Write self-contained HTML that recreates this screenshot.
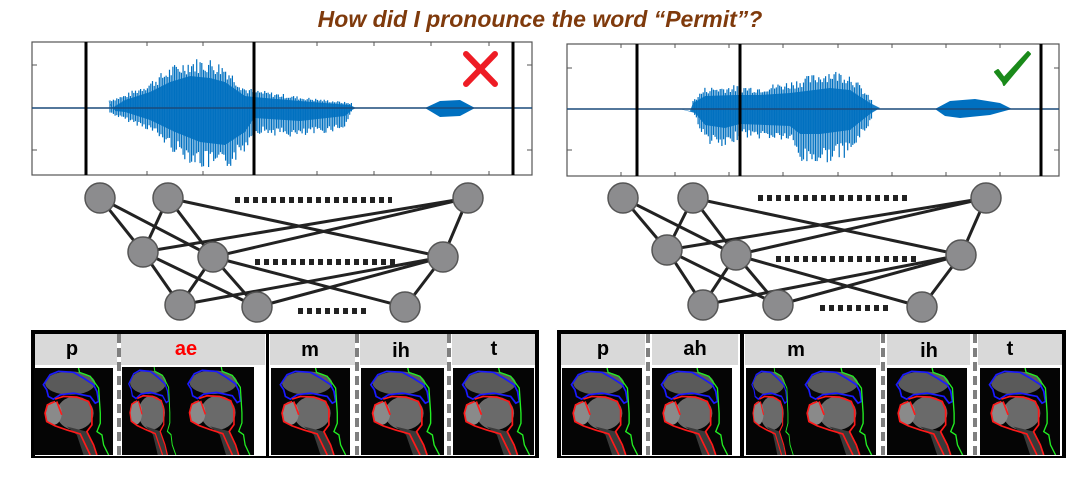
<!DOCTYPE html>
<html><head><meta charset="utf-8"><style>
html,body{margin:0;padding:0;background:#fff;}
body{width:1076px;height:499px;overflow:hidden;position:relative;font-family:"Liberation Sans",sans-serif;}
</style></head><body>
<svg id="s" width="1076" height="499" viewBox="0 0 1076 499" xmlns="http://www.w3.org/2000/svg" style="position:absolute;left:0;top:0">
<defs>
<symbol id="mri" viewBox="12 25 236 260" preserveAspectRatio="none">
<rect x="0" y="0" width="300" height="300" fill="#050505"/>
<ellipse cx="120" cy="70" rx="75" ry="35" fill="#5a5a5a"/>
<ellipse cx="135" cy="160" rx="55" ry="50" fill="#6a6a6a"/>
<ellipse cx="70" cy="160" rx="25" ry="35" fill="#8a8a8a"/>
<path d="M110,200 L170,215 L200,285 L160,285 L140,225 Z" fill="#3a3a3a"/>
<path d="M40,75 L60,45 L85,35 L130,38 L160,55 L190,75 L200,95 L205,125 L195,130 L180,110 L130,100 L90,105 L70,118 L55,110 L50,90 Z" fill="none" stroke="#1a1aff" stroke-width="5"/>
<path d="M75,118 L100,110 L140,112 L175,125 L185,150 L185,195 L170,215 L190,255 L200,285 M180,285 L150,222 L110,210 L75,198 L50,185 L45,160 L52,135 L75,125 M80,125 L95,165" fill="none" stroke="#ff1a1a" stroke-width="5"/>
<path d="M145,25 L148,38 L180,50 L205,85 L210,160 L210,190 L200,215 L215,225 L220,255 L235,285" fill="none" stroke="#22ee22" stroke-width="4"/>
</symbol>
</defs>

<text x="540" y="27" text-anchor="middle" font-family="Liberation Sans, sans-serif" font-size="23" font-weight="bold" font-style="italic" fill="#7f3a0c">How did I pronounce the word “Permit”?</text>

<!-- Left waveform box -->
<g>
<rect x="32" y="42" width="500" height="133" fill="#fff" stroke="#555" stroke-width="1.2"/>
<g stroke="#555" stroke-width="1">
<line x1="32" y1="65" x2="37" y2="65"/><line x1="32" y1="150" x2="37" y2="150"/>
<line x1="527" y1="65" x2="532" y2="65"/><line x1="527" y1="150" x2="532" y2="150"/>
<line x1="147" y1="42" x2="147" y2="46"/><line x1="203" y1="42" x2="203" y2="46"/><line x1="317" y1="42" x2="317" y2="46"/><line x1="374" y1="42" x2="374" y2="46"/><line x1="431" y1="42" x2="431" y2="46"/><line x1="489" y1="42" x2="489" y2="46"/>
<line x1="147" y1="171" x2="147" y2="175"/><line x1="203" y1="171" x2="203" y2="175"/><line x1="317" y1="171" x2="317" y2="175"/><line x1="374" y1="171" x2="374" y2="175"/><line x1="431" y1="171" x2="431" y2="175"/><line x1="489" y1="171" x2="489" y2="175"/>
</g>
<polygon fill="#0070c0" fill-opacity="0.9" points="108,100 112,108 125,100 150,92 170,82 190,76 210,78 225,82 245,96 254,97 300,101 350,105 356,108 352,110 345,116 300,121 254,118 245,132 225,145 200,142 175,132 150,120 125,112 115,111"/>
<g id="wl" stroke="#0070c0" stroke-width="1.2"></g>
<polygon fill="#0070c0" points="425,108 440,101 460,100 475,108 460,116 440,117"/>
<line x1="32" y1="108" x2="532" y2="108" stroke="#1a4a7a" stroke-width="1.5"/>
<line x1="86" y1="42" x2="86" y2="175" stroke="#000" stroke-width="3"/>
<line x1="254" y1="42" x2="254" y2="175" stroke="#000" stroke-width="3"/>
<line x1="513" y1="42" x2="513" y2="175" stroke="#000" stroke-width="3"/>
<g stroke="#ee1c25" stroke-width="6" stroke-linecap="round"><line x1="466" y1="54" x2="495" y2="84"/><line x1="495" y1="54" x2="466" y2="84"/></g>
</g>

<!-- Right waveform box -->
<g>
<rect x="567" y="44" width="492" height="132" fill="#fff" stroke="#555" stroke-width="1.2"/>
<g stroke="#555" stroke-width="1">
<line x1="567" y1="68" x2="572" y2="68"/><line x1="567" y1="150" x2="572" y2="150"/>
<line x1="1054" y1="68" x2="1059" y2="68"/><line x1="1054" y1="150" x2="1059" y2="150"/>
<line x1="621" y1="44" x2="621" y2="48"/><line x1="675" y1="44" x2="675" y2="48"/><line x1="729" y1="44" x2="729" y2="48"/><line x1="783" y1="44" x2="783" y2="48"/><line x1="838" y1="44" x2="838" y2="48"/><line x1="892" y1="44" x2="892" y2="48"/><line x1="946" y1="44" x2="946" y2="48"/><line x1="1000" y1="44" x2="1000" y2="48"/>
<line x1="621" y1="172" x2="621" y2="176"/><line x1="675" y1="172" x2="675" y2="176"/><line x1="729" y1="172" x2="729" y2="176"/><line x1="783" y1="172" x2="783" y2="176"/><line x1="838" y1="172" x2="838" y2="176"/><line x1="892" y1="172" x2="892" y2="176"/><line x1="946" y1="172" x2="946" y2="176"/><line x1="1000" y1="172" x2="1000" y2="176"/>
</g>
<polygon fill="#0070c0" fill-opacity="0.9" points="680,109 690,111 693,103 705,96 735,95 760,95 790,93 830,88 850,90 870,103 880,108 870,114 850,130 820,134 800,134 790,126 740,124 725,128 705,125 695,113"/>
<g id="wr" stroke="#0070c0" stroke-width="1.2"></g>
<polygon fill="#0070c0" points="935,109 950,101 975,99 1000,103 1012,109 990,115 960,118 945,116"/>
<line x1="567" y1="109" x2="1059" y2="109" stroke="#1a4a7a" stroke-width="1.5"/>
<line x1="637" y1="44" x2="637" y2="176" stroke="#000" stroke-width="3"/>
<line x1="740" y1="44" x2="740" y2="176" stroke="#000" stroke-width="3"/>
<line x1="1041" y1="44" x2="1041" y2="176" stroke="#000" stroke-width="3"/>
<path d="M995,72 L1003,82 L1004,85 L1030,54 L1028,52 L1004,78 L998,70 Z" fill="#1a8a1a" stroke="#1a8a1a" stroke-width="2" stroke-linejoin="round"/>
</g>

<!-- Left network -->
<g stroke="#222" stroke-width="3">
<line x1="100" y1="198" x2="143" y2="252"/><line x1="100" y1="198" x2="213" y2="257"/>
<line x1="168" y1="198" x2="143" y2="252"/><line x1="168" y1="198" x2="213" y2="257"/><line x1="168" y1="198" x2="443" y2="257"/>
<line x1="468" y1="198" x2="143" y2="252"/><line x1="468" y1="198" x2="213" y2="257"/><line x1="468" y1="198" x2="443" y2="257"/>
<line x1="143" y1="252" x2="180" y2="305"/><line x1="143" y1="252" x2="257" y2="307"/>
<line x1="213" y1="257" x2="180" y2="305"/><line x1="213" y1="257" x2="257" y2="307"/><line x1="213" y1="257" x2="405" y2="307"/>
<line x1="443" y1="257" x2="180" y2="305"/><line x1="443" y1="257" x2="257" y2="307"/><line x1="443" y1="257" x2="405" y2="307"/>
</g>
<g fill="#8c8c8e" stroke="#555" stroke-width="1.5">
<circle cx="100" cy="198" r="15"/><circle cx="168" cy="198" r="15"/><circle cx="468" cy="198" r="15"/>
<circle cx="143" cy="252" r="15"/><circle cx="213" cy="257" r="15"/><circle cx="443" cy="257" r="15"/>
<circle cx="180" cy="305" r="15"/><circle cx="257" cy="307" r="15"/><circle cx="405" cy="307" r="15"/>
</g>
<g stroke="#222" stroke-width="6" stroke-dasharray="5,4">
<line x1="235" y1="200" x2="392" y2="200"/>
<line x1="255" y1="262" x2="397" y2="262"/>
<line x1="298" y1="311" x2="367" y2="311"/>
</g>

<!-- Right network -->
<g stroke="#222" stroke-width="3">
<line x1="623" y1="198" x2="667" y2="250"/><line x1="623" y1="198" x2="736" y2="255"/>
<line x1="693" y1="198" x2="667" y2="250"/><line x1="693" y1="198" x2="736" y2="255"/><line x1="693" y1="198" x2="961" y2="255"/>
<line x1="986" y1="198" x2="667" y2="250"/><line x1="986" y1="198" x2="736" y2="255"/><line x1="986" y1="198" x2="961" y2="255"/>
<line x1="667" y1="250" x2="703" y2="305"/><line x1="667" y1="250" x2="778" y2="305"/>
<line x1="736" y1="255" x2="703" y2="305"/><line x1="736" y1="255" x2="778" y2="305"/><line x1="736" y1="255" x2="922" y2="307"/>
<line x1="961" y1="255" x2="703" y2="305"/><line x1="961" y1="255" x2="778" y2="305"/><line x1="961" y1="255" x2="922" y2="307"/>
</g>
<g fill="#8c8c8e" stroke="#555" stroke-width="1.5">
<circle cx="623" cy="198" r="15"/><circle cx="693" cy="198" r="15"/><circle cx="986" cy="198" r="15"/>
<circle cx="667" cy="250" r="15"/><circle cx="736" cy="255" r="15"/><circle cx="961" cy="255" r="15"/>
<circle cx="703" cy="305" r="15"/><circle cx="778" cy="305" r="15"/><circle cx="922" cy="307" r="15"/>
</g>
<g stroke="#222" stroke-width="6" stroke-dasharray="5,4">
<line x1="758" y1="198" x2="910" y2="198"/>
<line x1="776" y1="259" x2="917" y2="259"/>
<line x1="820" y1="308" x2="888" y2="308"/>
</g>

<!-- Left bottom panel -->
<rect x="31" y="330" width="508" height="128" fill="#000"/>
<rect x="35" y="334" width="500" height="122" fill="#fff"/>
<g fill="#d9d9d9">
<rect x="35" y="334" width="82" height="31"/><rect x="121" y="334" width="144" height="31"/>
<rect x="270" y="334" width="85" height="31"/><rect x="360" y="334" width="87" height="31"/><rect x="452" y="334" width="83" height="31"/>
</g>
<rect x="266" y="334" width="3" height="122" fill="#000"/>
<g stroke="#7f7f7f" stroke-width="4" stroke-dasharray="9,5">
<line x1="119" y1="334" x2="119" y2="456"/><line x1="357" y1="334" x2="357" y2="456"/><line x1="449" y1="334" x2="449" y2="456"/>
</g>
<g font-family="Liberation Sans, sans-serif" font-size="20" font-weight="bold" text-anchor="middle" fill="#000">
<text x="72" y="355">p</text><text x="186" y="355" fill="#ff0000">ae</text><text x="310" y="356">m</text><text x="401" y="357">ih</text><text x="494" y="355">t</text>
</g>
<use href="#mri" x="34" y="368" width="79" height="87"/>
<use href="#mri" x="122" y="367" width="57" height="88"/>
<use href="#mri" x="179" y="367" width="75" height="88"/>
<use href="#mri" x="271" y="368" width="79" height="87"/>
<use href="#mri" x="361" y="368" width="83" height="87"/>
<use href="#mri" x="453" y="368" width="81" height="87"/>

<!-- Right bottom panel -->
<rect x="557" y="330" width="509" height="128" fill="#000"/>
<rect x="561" y="334" width="501" height="122" fill="#fff"/>
<g fill="#d9d9d9">
<rect x="561" y="334" width="84" height="31"/><rect x="652" y="334" width="86" height="31"/>
<rect x="745" y="334" width="135" height="31"/><rect x="887" y="334" width="83" height="31"/><rect x="978" y="334" width="84" height="31"/>
</g>
<rect x="740" y="334" width="4" height="122" fill="#000"/>
<g stroke="#7f7f7f" stroke-width="4" stroke-dasharray="9,5">
<line x1="648" y1="334" x2="648" y2="456"/><line x1="883" y1="334" x2="883" y2="456"/><line x1="975" y1="334" x2="975" y2="456"/>
</g>
<g font-family="Liberation Sans, sans-serif" font-size="20" font-weight="bold" text-anchor="middle" fill="#000">
<text x="603" y="355">p</text><text x="695" y="355">ah</text><text x="796" y="356">m</text><text x="929" y="357">ih</text><text x="1010" y="355">t</text>
</g>
<use href="#mri" x="562" y="368" width="80" height="87"/>
<use href="#mri" x="652" y="368" width="80" height="87"/>
<use href="#mri" x="746" y="368" width="50" height="87"/>
<use href="#mri" x="796" y="368" width="80" height="87"/>
<use href="#mri" x="887" y="368" width="80" height="87"/>
<use href="#mri" x="980" y="368" width="80" height="87"/>
</svg>
<script>
(function(){
var NS="http://www.w3.org/2000/svg";
function interp(pts,x){for(var i=0;i<pts.length-1;i++){if(x>=pts[i][0]&&x<=pts[i+1][0]){var t=(x-pts[i][0])/(pts[i+1][0]-pts[i][0]);return pts[i][1]+t*(pts[i+1][1]-pts[i][1]);}}return null;}
var seed=7;function r(){seed=(seed*9301+49297)%233280;return seed/233280;}
function draw(id,x0,x1,zero,top,bot){var g=document.getElementById(id);
for(var x=x0;x<=x1;x+=1.7){var t=interp(top,x),b=interp(bot,x);if(t===null||b===null)continue;
var k=0.72+0.33*r();var l=document.createElementNS(NS,"line");
l.setAttribute("x1",x);l.setAttribute("x2",x);
l.setAttribute("y1",zero-(zero-t)*k);l.setAttribute("y2",zero+(b-zero)*(0.72+0.33*r()));g.appendChild(l);}}
draw("wl",110,352,108,[[108,100],[125,95],[150,82],[170,68],[190,60],[210,60],[225,66],[245,88],[254,90],[300,97],[352,103]],
 [[108,112],[120,118],[150,130],[175,152],[200,166],[225,170],[245,150],[254,132],[300,137],[345,128],[352,110]]);
draw("wr",693,872,109,[[693,100],[705,88],[735,86],[760,87],[790,82],[830,71],[850,74],[872,100]],
 [[693,112],[705,140],[725,150],[740,136],[790,140],[800,162],[820,162],[850,154],[872,120]]);
})();
</script>
</body></html>
